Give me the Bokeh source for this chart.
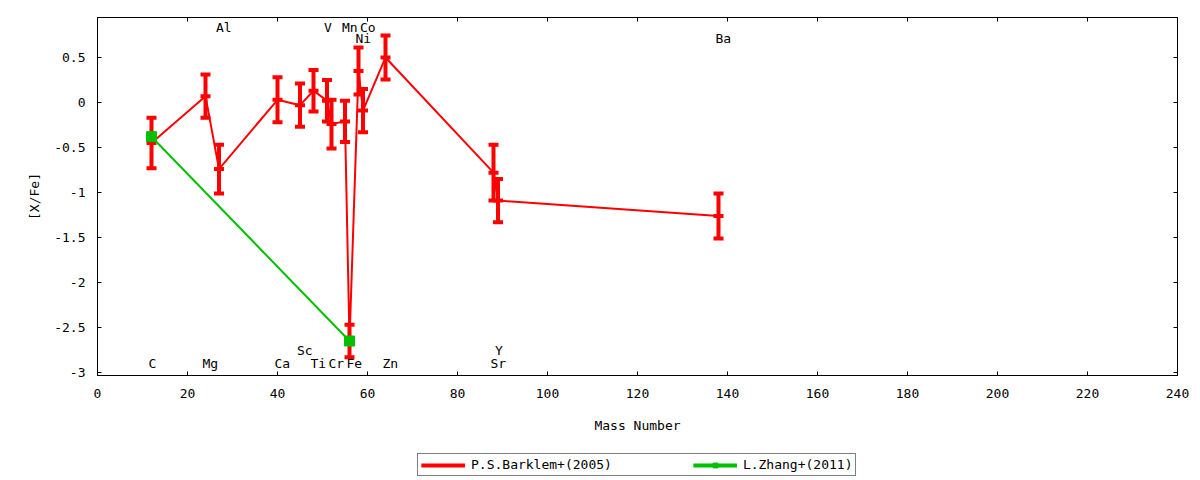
import numpy as np
from bokeh.plotting import figure
from bokeh.layouts import column
from bokeh.models import (LinearAxis, SingleIntervalTicker, CustomJSTickFormatter,
                          Legend, LegendItem, Range1d)
from bokeh.core.properties import value
from bokeh.embed import file_html
from bokeh.resources import INLINE

# ---- data ----
barklem_mass = [12, 24, 27, 40, 45, 48, 51, 52, 55, 56, 58, 59, 64, 88, 89, 138]
barklem_xfe = [-0.45, 0.07, -0.74, 0.03, -0.03, 0.13, 0.02, -0.24, -0.21, -2.65,
               0.35, -0.09, 0.50, -0.78, -1.09, -1.26]
barklem_err = [0.28, 0.24, 0.27, 0.25, 0.24, 0.23, 0.23, 0.27, 0.23, 0.18,
               0.26, 0.24, 0.245, 0.31, 0.24, 0.25]

zhang_mass = [12, 56]
zhang_xfe = [-0.38, -2.65]
zhang_err = [0.04, 0.04]

elem_names = ["C", "Mg", "Al", "Ca", "Sc", "Ti", "V", "Cr", "Mn", "Fe", "Ni", "Co",
              "Zn", "Sr", "Y", "Ba"]
elem_mass = [12, 24, 27, 40, 45, 48, 51, 52, 55, 56, 58, 59, 64, 88, 89, 138]
elem_label_y = [-2.905, -2.905, 0.83, -2.905, -2.755, -2.905, 0.83, -2.905, 0.83,
                -2.905, 0.71, 0.83, -2.905, -2.905, -2.755, 0.71]

x_ticks_interval = 20
y_ticks_interval = 0.5

FONT = "DejaVu Sans Mono"
RED = "#ff0000"
GREEN = "#00c000"

p = figure(width=1192, height=436, output_backend="svg", toolbar_location=None,
           x_range=Range1d(0, 240), y_range=Range1d(-3.033, 0.944),
           min_border_left=97, min_border_right=15, min_border_top=17,
           min_border_bottom=61, x_axis_label="Mass Number", y_axis_label="[X/Fe]")
p.grid.visible = False
p.outline_line_color = "black"
p.outline_line_width = 1
p.background_fill_color = "white"
p.border_fill_color = "white"

def style_axis(ax, ticker, labels=True):
    ax.ticker = ticker
    ax.major_tick_in = 4
    ax.major_tick_out = 0
    ax.minor_tick_line_color = None
    ax.major_tick_line_color = "black"
    ax.axis_line_color = "black"
    ax.major_label_text_font = FONT
    ax.major_label_text_font_size = "13px"
    ax.major_label_text_color = "black"
    ax.axis_label_text_font = FONT
    ax.axis_label_text_font_size = "13px"
    ax.axis_label_text_font_style = "normal"
    ax.axis_label_text_color = "black"
    if not labels:
        ax.major_label_text_color = None
        ax.major_label_standoff = 0

style_axis(p.xaxis[0], SingleIntervalTicker(interval=x_ticks_interval))
p.xaxis[0].major_label_standoff = 9
p.xaxis[0].axis_label_standoff = 17
style_axis(p.yaxis[0], SingleIntervalTicker(interval=y_ticks_interval))
p.yaxis[0].formatter = CustomJSTickFormatter(code="return tick.toString();")
p.yaxis[0].major_label_standoff = 8
p.yaxis[0].axis_label_standoff = 9

top_ax = LinearAxis()
style_axis(top_ax, SingleIntervalTicker(interval=x_ticks_interval), labels=False)
p.add_layout(top_ax, "above")
right_ax = LinearAxis()
style_axis(right_ax, SingleIntervalTicker(interval=y_ticks_interval), labels=False)
p.add_layout(right_ax, "right")

# ---- Barklem series ----
bm = np.array(barklem_mass, dtype=float)
bv = np.array(barklem_xfe)
be = np.array(barklem_err)
p.line(bm, bv, line_color=RED, line_width=2)
p.segment(x0=bm, y0=bv - be, x1=bm, y1=bv + be, line_color=RED, line_width=4)
for yy in (bv - be, bv + be, bv):
    p.scatter(bm, yy, marker="dash", size=10, line_color=RED, line_width=4)

# ---- Zhang series ----
zm = np.array(zhang_mass, dtype=float)
zv = np.array(zhang_xfe)
ze = np.array(zhang_err)
p.line(zm, zv, line_color=GREEN, line_width=2)
p.segment(x0=zm, y0=zv - ze, x1=zm, y1=zv + ze, line_color=GREEN, line_width=4)
p.scatter(zm, zv, marker="square", size=10, fill_color=GREEN, line_color=GREEN)

# ---- element labels ----
p.text(x=elem_mass, y=elem_label_y, text=elem_names, text_font=value(FONT),
       text_font_size="13px", text_color="black", text_align="left",
       text_baseline="middle", x_offset=-3)

# ---- key strip below the plot (same series styles, view placed off the data) ----
k = figure(width=1192, height=44, output_backend="svg", toolbar_location=None,
           x_range=Range1d(1000, 1001), y_range=Range1d(1000, 1001),
           x_axis_location=None, y_axis_location=None, min_border=0,
           min_border_left=0, min_border_right=0, min_border_top=0, min_border_bottom=0)
k.grid.visible = False
k.outline_line_color = None
k.background_fill_color = "white"
k.border_fill_color = "white"
kr_line = k.line(bm, bv, line_color=RED, line_width=2)
kr_seg = k.segment(x0=bm, y0=bv - be, x1=bm, y1=bv + be, line_color=RED, line_width=4)
kg_line = k.line(zm, zv, line_color=GREEN, line_width=2)
kg_seg = k.segment(x0=zm, y0=zv - ze, x1=zm, y1=zv + ze, line_color=GREEN, line_width=4)
kg_pts = k.scatter(zm, zv, marker="square", size=9, fill_color=GREEN, line_color=GREEN)

legend = Legend(items=[
    LegendItem(label="P.S.Barklem+(2005)", renderers=[kr_line, kr_seg]),
    LegendItem(label="L.Zhang+(2011)", renderers=[kg_line, kg_seg, kg_pts]),
], orientation="horizontal", location=(320, 4))
legend.label_text_font = FONT
legend.label_text_font_size = "13px"
legend.label_text_color = "black"
legend.glyph_width = 44
legend.glyph_height = 12
legend.label_height = 12
legend.label_standoff = 6
legend.padding = 3
legend.spacing = 81
legend.margin = 0
legend.border_line_color = "black"
legend.border_line_width = 1
legend.background_fill_color = "white"
legend.background_fill_alpha = 1.0
k.add_layout(legend)

layout = column(p, k, spacing=0)
open("out.html", "w").write(file_html(layout, INLINE))
